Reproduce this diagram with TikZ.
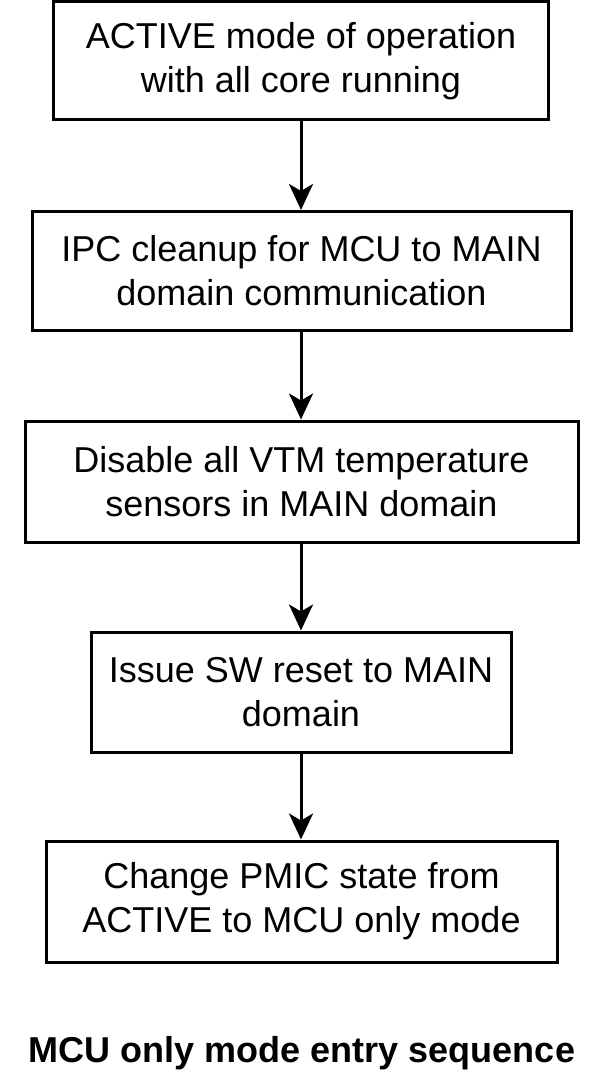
\documentclass[tikz,border=0pt]{standalone}
\usepackage{fontspec}
\setmainfont{Liberation Sans}
\usetikzlibrary{arrows.meta}
\begin{document}
\begin{tikzpicture}[x=1pt,y=-1pt,
  stepbox/.style={draw=black, line width=3pt, align=center, inner sep=0pt,
    font=\fontsize{36}{44}\selectfont},
  flow/.style={draw=black, line width=3pt, -{Stealth[length=26pt,width=24pt,inset=7pt]}}]
\useasboundingbox[fill=white] (0,0) rectangle (603,1083);
\node[stepbox, minimum width=495pt, minimum height=118pt] (a) at (301,61) {ACTIVE mode of operation\\with all core running};
\node[stepbox, minimum width=539pt, minimum height=119pt] (b) at (301.5,271) {IPC cleanup for MCU to MAIN\\domain communication};
\node[stepbox, minimum width=553pt, minimum height=121pt] (c) at (301.5,481.5) {Disable all VTM temperature\\sensors in MAIN domain};
\node[stepbox, minimum width=420pt, minimum height=120pt] (d) at (301,692) {Issue SW reset to MAIN\\domain};
\node[stepbox, minimum width=511pt, minimum height=121pt] (e) at (301.5,901.5) {Change PMIC state from\\ACTIVE to MCU only mode};
\node[anchor=base, inner sep=0pt, font=\fontsize{36}{44}\selectfont\bfseries] (t) at (302,1062) {MCU only mode entry sequence};
\draw[flow] (a.south -| 301,0) -- (b.north -| 301,0);
\draw[flow] (b.south -| 301,0) -- (c.north -| 301,0);
\draw[flow] (c.south -| 301,0) -- (d.north -| 301,0);
\draw[flow] (d.south -| 301,0) -- (e.north -| 301,0);
\end{tikzpicture}
\end{document}
